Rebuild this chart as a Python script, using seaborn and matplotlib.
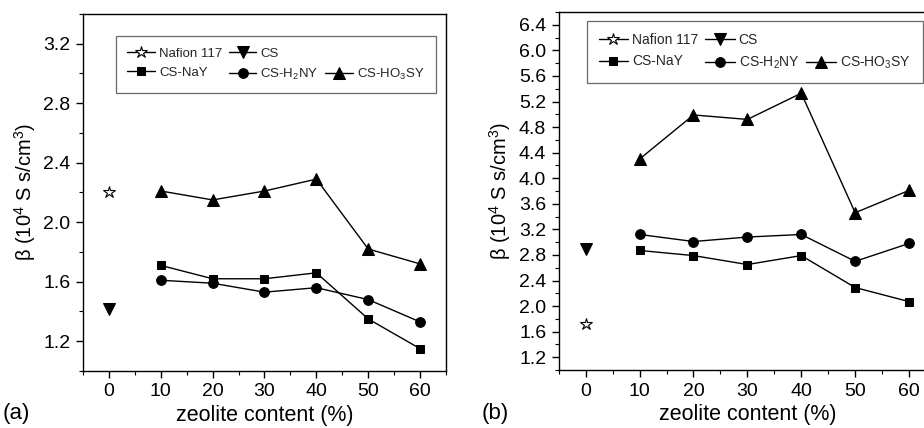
import matplotlib
matplotlib.use("Agg")
import matplotlib.pyplot as plt
import seaborn as sns
import pandas as pd
from matplotlib.ticker import MultipleLocator
from matplotlib.lines import Line2D

# ---- data ----
zeolite = [10, 20, 30, 40, 50, 60]
ref_x = [0]

a_nafion = [2.20]
a_cs = [1.42]
a_nay = [1.71, 1.62, 1.62, 1.66, 1.35, 1.15]
a_h2ny = [1.61, 1.59, 1.53, 1.56, 1.48, 1.33]
a_ho3sy = [2.21, 2.15, 2.21, 2.29, 1.82, 1.72]

b_nafion = [1.72]
b_cs = [2.89]
b_nay = [2.87, 2.79, 2.65, 2.79, 2.29, 2.07]
b_h2ny = [3.12, 3.01, 3.08, 3.12, 2.70, 2.98]
b_ho3sy = [4.30, 4.99, 4.92, 5.33, 3.46, 3.81]

labels = ["Nafion 117", "CS", "CS-NaY", r"CS-H$_2$NY", r"CS-HO$_3$SY"]
x_ticks = [0, 10, 20, 30, 40, 50, 60]
a_yticks = [1.2, 1.6, 2.0, 2.4, 2.8, 3.2]
b_yticks = [1.2, 1.6, 2.0, 2.4, 2.8, 3.2, 3.6, 4.0, 4.4, 4.8, 5.2, 5.6, 6.0, 6.4]

sns.set_theme(style="ticks")
plt.rcParams["font.family"] = ["Liberation Sans", "DejaVu Sans"]
plt.rcParams["mathtext.fontset"] = "custom"
plt.rcParams["mathtext.rm"] = "Liberation Sans"
plt.rcParams["mathtext.it"] = "Liberation Sans:italic"
plt.rcParams["mathtext.bf"] = "Liberation Sans:bold"

fig = plt.figure(figsize=(9.24, 4.28), dpi=100)
ax_a = fig.add_axes([0.0898, 0.1332, 0.3929, 0.8341])
ax_b = fig.add_axes([0.6047, 0.1355, 0.4083, 0.8364])


def draw(ax, naf, cs, nay, h2ny, ho3sy, ylim, yticks, legend_anchor, legsize):
    kw = dict(color="black", linewidth=1.0, markeredgecolor="black", ax=ax)
    sns.lineplot(x=ref_x, y=naf, marker="*", markersize=9, markerfacecolor="white",
                 markeredgewidth=0.8, label=labels[0], **kw)
    sns.lineplot(x=ref_x, y=cs, marker="v", markersize=8, label=labels[1], **kw)
    sns.lineplot(x=zeolite, y=nay, marker="s", markersize=6, label=labels[2], **kw)
    sns.lineplot(x=zeolite, y=h2ny, marker="o", markersize=7, label=labels[3], **kw)
    sns.lineplot(x=zeolite, y=ho3sy, marker="^", markersize=8, label=labels[4], **kw)
    handles, labs = ax.get_legend_handles_labels()
    blank = Line2D([], [], linestyle="none", marker=None)
    hs = [handles[0], handles[2], handles[1], handles[3], blank, handles[4]]
    ls = [labs[0], labs[2], labs[1], labs[3], "", labs[4]]
    leg = ax.legend(hs, ls, ncol=3,
                    loc="upper left", bbox_to_anchor=legend_anchor, borderaxespad=0,
                    frameon=True, fancybox=False, edgecolor="#444444", fontsize=legsize,
                    handlelength=2.1, handletextpad=0.3, columnspacing=0.5,
                    labelspacing=0.55, borderpad=0.85)
    leg.get_frame().set_linewidth(0.9)
    ax.set_xlim(-5, 65)
    ax.set_ylim(*ylim)
    ax.set_xticks(x_ticks)
    ax.set_yticks(yticks)
    ax.set_yticklabels([f"{v:.1f}" for v in yticks])
    ax.xaxis.set_minor_locator(MultipleLocator(5))
    ax.yaxis.set_minor_locator(MultipleLocator(0.2))
    ax.tick_params(which="major", direction="out", length=5, width=1,
                   labelsize=14, colors="black", pad=4)
    ax.tick_params(which="minor", direction="out", length=3, width=0.8, colors="black")
    ax.tick_params(top=False, right=False)
    for s in ax.spines.values():
        s.set_visible(True)
        s.set_color("black")
        s.set_linewidth(1.0)
    ax.set_xlabel("zeolite content (%)", fontsize=15.5, color="black", labelpad=3)
    ax.set_ylabel("β (10$^4$ S s/cm$^3$)", fontsize=14.5, color="black", labelpad=4)


draw(ax_a, a_nafion, a_cs, a_nay, a_h2ny, a_ho3sy, (1.0, 3.4), a_yticks, (0.091, 0.938), 9.5)
draw(ax_b, b_nafion, b_cs, b_nay, b_h2ny, b_ho3sy, (1.0, 6.6), b_yticks, (0.075, 0.975), 10)

fig.text(0.003, 0.035, "(a)", fontsize=16, color="black", ha="left", va="center")
fig.text(0.521, 0.035, "(b)", fontsize=16, color="black", ha="left", va="center")

fig.savefig("out.png", dpi=100, facecolor="white")
